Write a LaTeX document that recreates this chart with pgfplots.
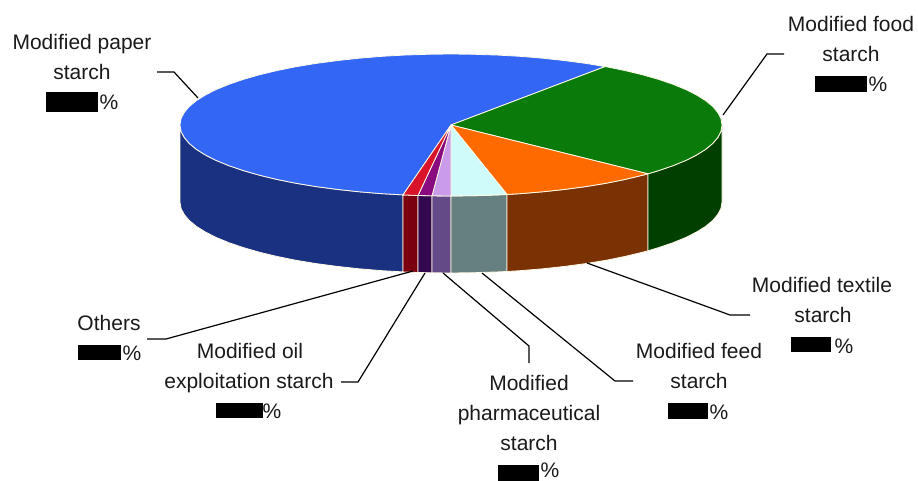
\documentclass[border=0pt]{standalone}
\usepackage{fontspec}
\setmainfont{Liberation Sans}
\usepackage{pgfplots}
\pgfplotsset{compat=1.18}
\definecolor{edge}{HTML}{FFFBE6}
\definecolor{tblue}{HTML}{3366F5}
\definecolor{tgreen}{HTML}{0A7A0A}
\definecolor{torange}{HTML}{FF6A00}
\definecolor{tcyan}{HTML}{CFFBFB}
\definecolor{tviolet}{HTML}{C99BE8}
\definecolor{tpurple}{HTML}{8A0A80}
\definecolor{tred}{HTML}{D9142A}
\definecolor{wblue}{HTML}{1A3080}
\definecolor{wgreen}{HTML}{003F00}
\definecolor{worange}{HTML}{7A3205}
\definecolor{wcyan}{HTML}{667F80}
\definecolor{wviolet}{HTML}{644A86}
\definecolor{wpurple}{HTML}{33084F}
\definecolor{wred}{HTML}{7A0010}
\definecolor{ltxt}{HTML}{1A1A1A}
\newcommand{\lab}[3]{\node[anchor=base,inner sep=0pt,text=ltxt,font=\fontsize{21}{25}\selectfont] at (axis cs:#1,#2) {#3};}
\begin{document}
\begin{tikzpicture}
\begin{axis}[scale only axis,width=918pt,height=481pt,xmin=0,xmax=918,ymin=0,ymax=481,y dir=reverse,hide axis,clip=false]
\path (axis cs:0,0) rectangle (axis cs:918,481);
% walls
\addplot[fill=wblue,draw=edge,line width=0.8pt,line join=round] coordinates {(403,194.9)(380.9,193.6)(358.3,191.7)(336.5,189.3)(315.5,186.5)(295.6,183.2)(276.8,179.4)(259.4,175.2)(243.4,170.6)(229,165.7)(216.3,160.5)(205.4,155)(196.3,149.3)(189.2,143.4)(184.1,137.3)(181,131.2)(180,125)(180,202)(181,208.2)(184.1,214.3)(189.2,220.4)(196.3,226.3)(205.4,232)(216.3,237.5)(229,242.7)(243.4,247.6)(259.4,252.2)(276.8,256.4)(295.6,260.2)(315.5,263.5)(336.5,266.3)(358.3,268.7)(380.9,270.6)(403,271.9)} --cycle;
\addplot[fill=wred,draw=edge,line width=0.8pt,line join=round] coordinates {(418,195.5)(403,194.9)(403,271.9)(418,272.5)} --cycle;
\addplot[fill=wpurple,draw=edge,line width=0.8pt,line join=round] coordinates {(432,195.8)(418,195.5)(418,272.5)(432,272.8)} --cycle;
\addplot[fill=wviolet,draw=edge,line width=0.8pt,line join=round] coordinates {(451,196)(432,195.8)(432,272.8)(451,273)} --cycle;
\addplot[fill=wcyan,draw=edge,line width=0.8pt,line join=round] coordinates {(507,194.5)(498,194.9)(474.6,195.7)(451,196)(451,273)(474.6,272.7)(498,271.9)(507,271.5)} --cycle;
\addplot[fill=worange,draw=edge,line width=0.8pt,line join=round] coordinates {(648,173.8)(642.6,175.2)(625.2,179.4)(606.4,183.2)(586.5,186.5)(565.5,189.3)(543.7,191.7)(521.1,193.6)(507,194.5)(507,271.5)(521.1,270.6)(543.7,268.7)(565.5,266.3)(586.5,263.5)(606.4,260.2)(625.2,256.4)(642.6,252.2)(648,250.8)} --cycle;
\addplot[fill=wgreen,draw=edge,line width=0.8pt,line join=round] coordinates {(722,125)(721,131.2)(717.9,137.3)(712.8,143.4)(705.7,149.3)(696.6,155)(685.7,160.5)(673,165.7)(658.6,170.6)(648,173.8)(648,250.8)(658.6,247.6)(673,242.7)(685.7,237.5)(696.6,232)(705.7,226.3)(712.8,220.4)(717.9,214.3)(721,208.2)(722,202)} --cycle;
% top
\addplot[fill=tblue,draw=edge,line width=0.8pt,line join=round] coordinates {(451,125)(605,66.6)(586.5,63.5)(565.5,60.7)(543.7,58.3)(521.1,56.4)(498,55.1)(474.6,54.3)(451,54)(427.4,54.3)(404,55.1)(380.9,56.4)(358.3,58.3)(336.5,60.7)(315.5,63.5)(295.6,66.8)(276.8,70.6)(259.4,74.8)(243.4,79.4)(229,84.3)(216.3,89.5)(205.4,95)(196.3,100.7)(189.2,106.6)(184.1,112.7)(181,118.8)(180,125)(181,131.2)(184.1,137.3)(189.2,143.4)(196.3,149.3)(205.4,155)(216.3,160.5)(229,165.7)(243.4,170.6)(259.4,175.2)(276.8,179.4)(295.6,183.2)(315.5,186.5)(336.5,189.3)(358.3,191.7)(380.9,193.6)(403,194.9)} --cycle;
\addplot[fill=tgreen,draw=edge,line width=0.8pt,line join=round] coordinates {(451,125)(605,66.6)(606.4,66.8)(625.2,70.6)(642.6,74.8)(658.6,79.4)(673,84.3)(685.7,89.5)(696.6,95)(705.7,100.7)(712.8,106.6)(717.9,112.7)(721,118.8)(722,125)(721,131.2)(717.9,137.3)(712.8,143.4)(705.7,149.3)(696.6,155)(685.7,160.5)(673,165.7)(658.6,170.6)(648,173.8)} --cycle;
\addplot[fill=torange,draw=edge,line width=0.8pt,line join=round] coordinates {(451,125)(648,173.8)(642.6,175.2)(625.2,179.4)(606.4,183.2)(586.5,186.5)(565.5,189.3)(543.7,191.7)(521.1,193.6)(507,194.5)} --cycle;
\addplot[fill=tcyan,draw=edge,line width=0.8pt,line join=round] coordinates {(451,125)(507,194.5)(498,194.9)(474.6,195.7)(451,196)} --cycle;
\addplot[fill=tviolet,draw=edge,line width=0.8pt,line join=round] coordinates {(451,125)(451,196)(432,195.8)} --cycle;
\addplot[fill=tpurple,draw=edge,line width=0.8pt,line join=round] coordinates {(451,125)(432,195.8)(418,195.5)} --cycle;
\addplot[fill=tred,draw=edge,line width=0.8pt,line join=round] coordinates {(451,125)(418,195.5)(403,194.9)} --cycle;
% leaders
\addplot[draw=black,line width=1.2pt] coordinates {(157,72)(174,72)(198,98)};
\addplot[draw=black,line width=1.2pt] coordinates {(784,54)(767,54)(723,115)};
\addplot[draw=black,line width=1.2pt] coordinates {(750,315)(730,315)(587,263)};
\addplot[draw=black,line width=1.2pt] coordinates {(633,381)(615,381)(482,273)};
\addplot[draw=black,line width=1.2pt] coordinates {(529,363)(529,346)(443,273)};
\addplot[draw=black,line width=1.2pt] coordinates {(341,382)(358,382)(425,273)};
\addplot[draw=black,line width=1.2pt] coordinates {(147,339)(166,339)(413,271)};
% value masks
\addplot[fill=black,draw=none] coordinates {(46,92.5)(98,92.5)(98,112)(46,112)} --cycle;
\addplot[fill=black,draw=none] coordinates {(815,76)(867,76)(867,92)(815,92)} --cycle;
\addplot[fill=black,draw=none] coordinates {(791,337)(831,337)(831,352)(791,352)} --cycle;
\addplot[fill=black,draw=none] coordinates {(668,403)(708,403)(708,419)(668,419)} --cycle;
\addplot[fill=black,draw=none] coordinates {(498,465)(539,465)(539,481)(498,481)} --cycle;
\addplot[fill=black,draw=none] coordinates {(78,345)(121,345)(121,360)(78,360)} --cycle;
\addplot[fill=black,draw=none] coordinates {(216,403)(263,403)(263,418)(216,418)} --cycle;
% labels
\lab{82}{50}{Modified paper}
\lab{82}{80}{starch}
\lab{109}{110}{\%}
\lab{851}{31.5}{Modified food}
\lab{851}{62}{starch}
\lab{878}{92}{\%}
\lab{822}{292}{Modified textile}
\lab{823}{322}{starch}
\lab{844}{353}{\%}
\lab{699}{358}{Modified feed}
\lab{699}{388}{starch}
\lab{719}{419}{\%}
\lab{529}{390}{Modified}
\lab{529}{420}{pharmaceutical}
\lab{529}{450}{starch}
\lab{550}{477.5}{\%}
\lab{109}{330}{Others}
\lab{132}{360}{\%}
\lab{250}{358}{Modified oil}
\lab{249}{388}{exploitation starch}
\lab{272}{418}{\%}
\end{axis}
\end{tikzpicture}
\end{document}
